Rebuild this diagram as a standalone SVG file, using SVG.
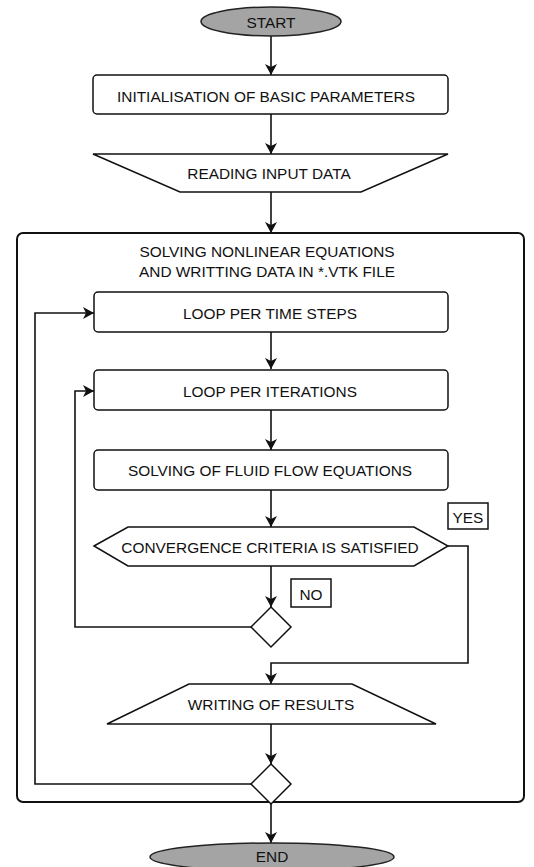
<svg xmlns="http://www.w3.org/2000/svg" width="534" height="867" viewBox="0 0 534 867">
<defs>
<style>
text{font-family:"Liberation Sans",Arial,sans-serif;font-size:15.4px;fill:#111;text-anchor:middle;dominant-baseline:central}
.box{fill:#fff;stroke:#111;stroke-width:1.5}
.term{fill:#a4a4a4;stroke:#222;stroke-width:1.5}
.frame{fill:none;stroke:#111;stroke-width:2}
.line{fill:none;stroke:#111;stroke-width:1.6}
.lbl{fill:#fff;stroke:#111;stroke-width:1.5}
</style>
<marker id="ah" markerWidth="11" markerHeight="12" refX="11" refY="6" orient="auto" markerUnits="userSpaceOnUse">
<path d="M0,0 L11,6 L0,12 L3,6 Z" fill="#111"/>
</marker>
</defs>
<rect fill="#fff" width="534" height="867"/>
<g id="container">
<rect class="frame" x="17" y="233" width="507" height="569" rx="6"/>
<text x="267" y="251">SOLVING NONLINEAR EQUATIONS</text>
<text x="267" y="271">AND WRITTING DATA IN *.VTK FILE</text>
</g>
<g id="connectors">
<line class="line" x1="271" y1="36" x2="271" y2="75" marker-end="url(#ah)"/>
<line class="line" x1="271" y1="114" x2="271" y2="154" marker-end="url(#ah)"/>
<line class="line" x1="271" y1="192" x2="271" y2="233" marker-end="url(#ah)"/>
<line class="line" x1="271" y1="332" x2="271" y2="369" marker-end="url(#ah)"/>
<line class="line" x1="271" y1="410" x2="271" y2="450" marker-end="url(#ah)"/>
<line class="line" x1="271" y1="490" x2="271" y2="527" marker-end="url(#ah)"/>
<line class="line" x1="271" y1="566" x2="271" y2="607" marker-end="url(#ah)"/>
<polyline class="line" points="251,627 75,627 75,391 94,391" marker-end="url(#ah)"/>
<polyline class="line" points="448,546 468,546 468,663 271,663 271,684" marker-end="url(#ah)"/>
<line class="line" x1="271" y1="724" x2="271" y2="764" marker-end="url(#ah)"/>
<polyline class="line" points="251,784 35,784 35,313 94,313" marker-end="url(#ah)"/>
<line class="line" x1="271" y1="804" x2="271" y2="843" marker-end="url(#ah)"/>
</g>
<g id="start">
<ellipse class="term" cx="271" cy="21.5" rx="70" ry="14.5"/>
<text x="271" y="22">START</text>
</g>
<g id="init">
<rect class="box" x="93" y="75" width="355" height="39" rx="4"/>
<text x="266" y="96">INITIALISATION OF BASIC PARAMETERS</text>
</g>
<g id="reading">
<polygon class="box" points="93,154 448,154 361,192 180,192"/>
<text x="269" y="173">READING INPUT DATA</text>
</g>
<g id="timesteps">
<rect class="box" x="94" y="292" width="354" height="40" rx="4"/>
<text x="270" y="313">LOOP PER TIME STEPS</text>
</g>
<g id="iterations">
<rect class="box" x="94" y="370" width="354" height="40" rx="4"/>
<text x="270" y="391">LOOP PER ITERATIONS</text>
</g>
<g id="fluid">
<rect class="box" x="94" y="450" width="354" height="40" rx="4"/>
<text x="270" y="470">SOLVING OF FLUID FLOW EQUATIONS</text>
</g>
<g id="yes">
<rect class="lbl" x="448" y="503" width="40" height="26"/>
<text x="468" y="517">YES</text>
</g>
<g id="convergence">
<polygon class="box" points="94,546 128,527 414,527 448,546 414,566 128,566"/>
<text x="270" y="547">CONVERGENCE CRITERIA IS SATISFIED</text>
</g>
<g id="no">
<rect class="lbl" x="291" y="579" width="40" height="28"/>
<text x="311" y="594">NO</text>
</g>
<g id="decision1">
<polygon class="box" points="271,607 291,627 271,647 251,627"/>
</g>
<g id="writing">
<polygon class="box" points="189,684 352,684 436,724 107,724"/>
<text x="271" y="704">WRITING OF RESULTS</text>
</g>
<g id="decision2">
<polygon class="box" points="271,764 291,784 271,804 251,784"/>
</g>
<g id="end">
<ellipse class="term" cx="272" cy="857" rx="122" ry="14"/>
<text x="272" y="856">END</text>
</g>
</svg>
